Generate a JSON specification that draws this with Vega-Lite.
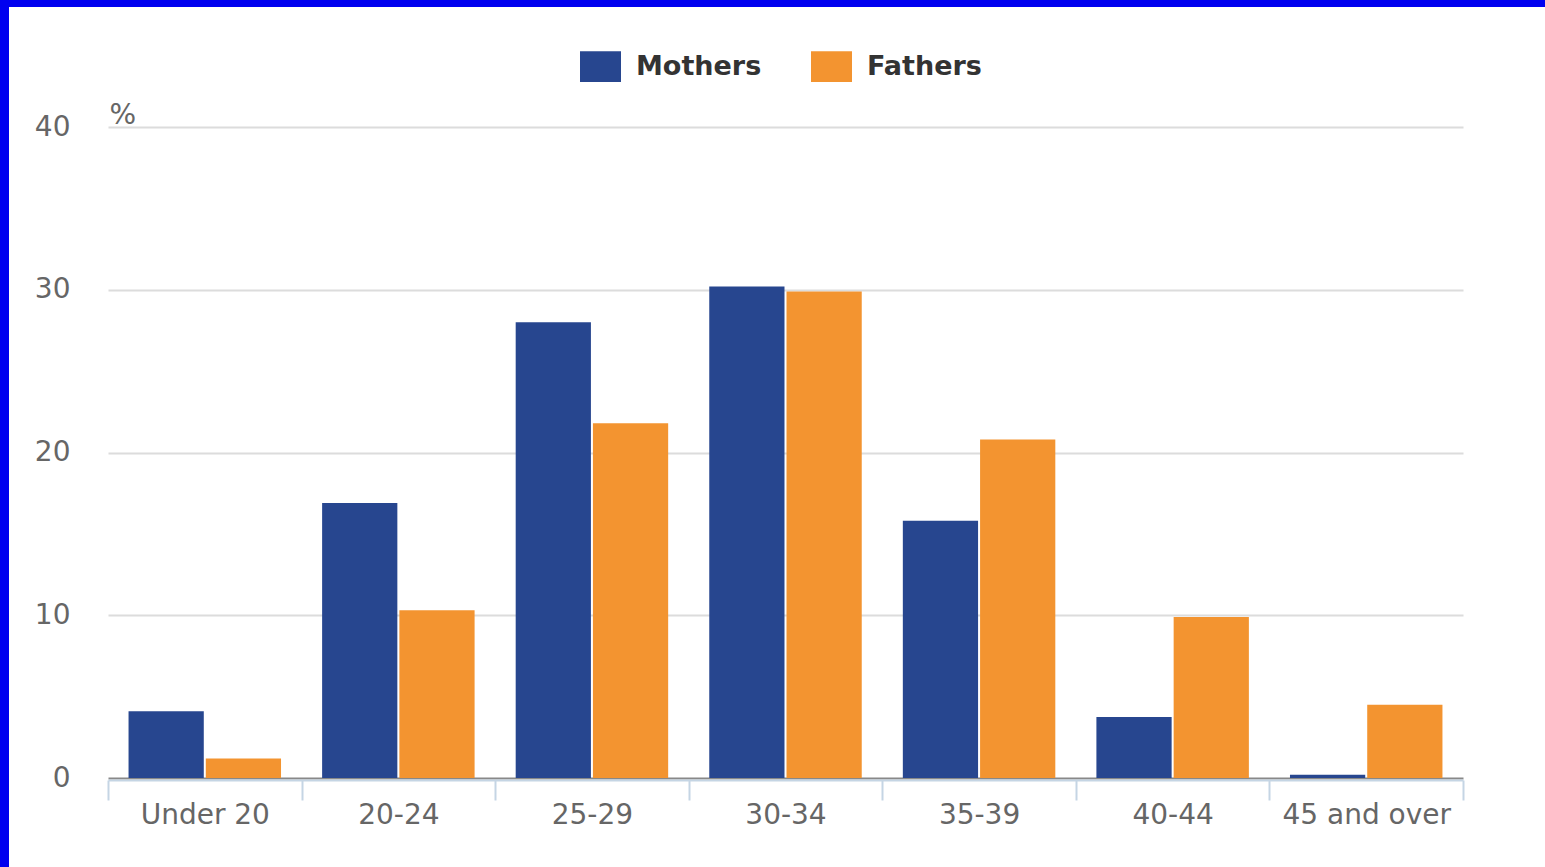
{
  "$schema": "https://vega.github.io/schema/vega-lite/v6.json",
  "autosize": "none",
  "width": 1536,
  "height": 860,
  "padding": {"left": 9, "top": 7, "right": 0, "bottom": 0},
  "background": "#0000f0",
  "config": {
    "view": {"fill": "white", "stroke": null},
    "font": "DejaVu Sans"
  },
  "data": {
    "values": [
      {"age": "Under 20", "parent": "Mothers", "pct": 4.1},
      {"age": "Under 20", "parent": "Fathers", "pct": 1.2},
      {"age": "20-24", "parent": "Mothers", "pct": 16.9},
      {"age": "20-24", "parent": "Fathers", "pct": 10.3},
      {"age": "25-29", "parent": "Mothers", "pct": 28.0},
      {"age": "25-29", "parent": "Fathers", "pct": 21.8},
      {"age": "30-34", "parent": "Mothers", "pct": 30.2},
      {"age": "30-34", "parent": "Fathers", "pct": 29.9},
      {"age": "35-39", "parent": "Mothers", "pct": 15.8},
      {"age": "35-39", "parent": "Fathers", "pct": 20.8},
      {"age": "40-44", "parent": "Mothers", "pct": 3.75},
      {"age": "40-44", "parent": "Fathers", "pct": 9.9},
      {"age": "45 and over", "parent": "Mothers", "pct": 0.2},
      {"age": "45 and over", "parent": "Fathers", "pct": 4.5}
    ]
  },
  "mark": {"type": "bar"},
  "encoding": {
    "x": {
      "field": "age",
      "type": "nominal",
      "sort": null,
      "scale": {"range": [99, 1454], "paddingInner": 0, "paddingOuter": 0},
      "axis": {
        "title": null,
        "orient": "bottom",
        "offset": -87,
        "labelAngle": 0,
        "labelFontSize": 28,
        "labelColor": "#666666",
        "labelPadding": 1,
        "domainColor": "#c5d5e4",
        "domainWidth": 2,
        "tickColor": "#c5d5e4",
        "tickWidth": 2,
        "tickSize": 20,
        "tickBand": "extent",
        "grid": false
      }
    },
    "xOffset": {
      "field": "parent",
      "type": "nominal",
      "sort": ["Mothers", "Fathers"],
      "scale": {"paddingInner": 0.026, "paddingOuter": 0.266}
    },
    "y": {
      "field": "pct",
      "type": "quantitative",
      "scale": {"domain": [0, 40], "range": [771, 120], "nice": false, "zero": true},
      "axis": {
        "values": [0, 10, 20, 30, 40],
        "offset": -99,
        "domain": false,
        "ticks": false,
        "labelFontSize": 28,
        "labelColor": "#666666",
        "labelPadding": 38,
        "grid": true,
        "gridColor": {"condition": {"test": "datum.value === 0", "value": "#888888"}, "value": "#dcdcdc"},
        "gridWidth": 2,
        "title": "%",
        "titleAngle": 0,
        "titleAlign": "left",
        "titleBaseline": "alphabetic",
        "titleX": 1,
        "titleY": 116,
        "titleFontSize": 28,
        "titleFontWeight": "normal",
        "titleColor": "#666666"
      }
    },
    "color": {
      "field": "parent",
      "type": "nominal",
      "scale": {"domain": ["Mothers", "Fathers"], "range": ["#27468f", "#f39430"]},
      "legend": {
        "title": null,
        "orient": "none",
        "direction": "horizontal",
        "legendX": 571,
        "legendY": 39,
        "symbolType": "M-1,-0.75H1V0.75H-1Z",
        "symbolSize": 1681,
        "symbolStrokeWidth": 0,
        "symbolOpacity": 1,
        "labelFont": "DejaVu Sans",
        "labelFontSize": 27,
        "labelFontWeight": "bold",
        "labelColor": "#333333",
        "labelOffset": 15,
        "columnPadding": 49
      }
    }
  }
}
